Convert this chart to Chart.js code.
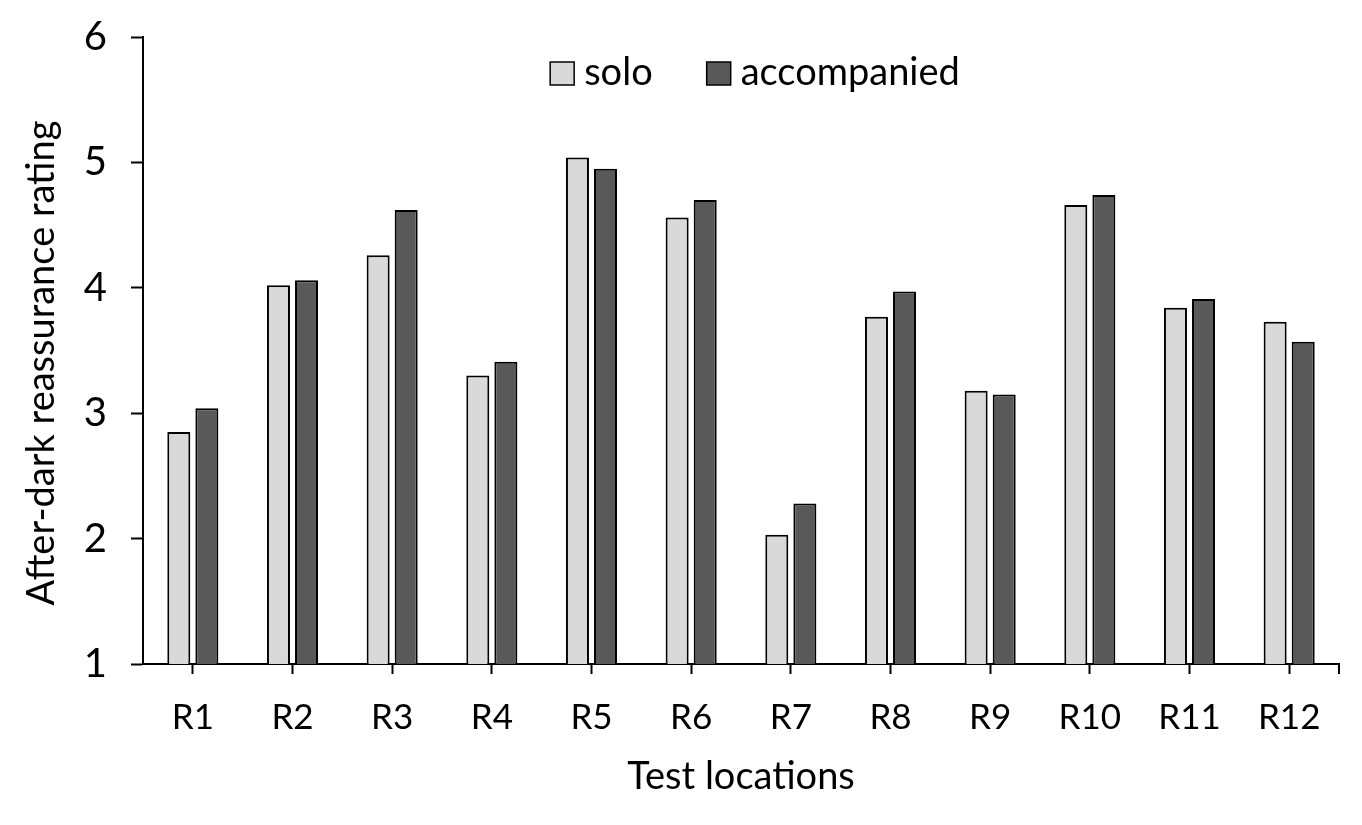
<!DOCTYPE html>
<html>
<head>
<meta charset="utf-8">
<script src="https://cdn.jsdelivr.net/npm/chart.js@4.4.1/dist/chart.umd.min.js"></script>
<style>
  html, body { margin: 0; padding: 0; background: #fff; }
  #wrap { width: 1362px; height: 825px; }
</style>
</head>
<body>
<div id="wrap"><canvas id="chart" width="1362" height="825"></canvas></div>
<script>
// data
const locations = ['R1', 'R2', 'R3', 'R4', 'R5', 'R6', 'R7', 'R8', 'R9', 'R10', 'R11', 'R12'];
const soloRatings = [2.85, 4.02, 4.26, 3.30, 5.04, 4.56, 2.03, 3.77, 3.18, 4.66, 3.84, 3.73];
const accompaniedRatings = [3.04, 4.06, 4.62, 3.41, 4.95, 4.70, 2.28, 3.97, 3.15, 4.74, 3.91, 3.57];
const yTicks = [1, 2, 3, 4, 5, 6];
const yTitle = 'After-dark reassurance rating';

const FONT = 'Lato, "Open Sans", sans-serif';

// legend drawn inside the plot area, near the top
const insideLegend = {
    id: 'insideLegend',
    afterDraw(chart) {
        const ctx = chart.ctx;
        const area = chart.chartArea;
        const box = 24, gap = 10, itemGap = 54;
        ctx.save();
        ctx.font = '38px ' + FONT;
        ctx.textBaseline = 'middle';
        const items = chart.data.datasets.map(ds => ({
            label: ds.label,
            color: ds.backgroundColor,
            w: box + gap + ctx.measureText(ds.label).width
        }));
        const total = items.reduce((s, it) => s + it.w, 0) + itemGap * (items.length - 1);
        let x = (area.left + area.right) / 2 + 14 - total / 2;
        const cy = 73;
        items.forEach(it => {
            ctx.fillStyle = it.color;
            ctx.fillRect(x, cy - 11, box, 23);
            ctx.lineWidth = 1.5;
            ctx.strokeStyle = '#000';
            ctx.strokeRect(x, cy - 11, box, 23);
            ctx.fillStyle = '#000';
            ctx.fillText(it.label, x + box + gap, cy);
            x += it.w + itemGap;
        });
        ctx.restore();
    }
};

// end tick on the category axis + y axis title (sits a bit below centre in the original)
const axisExtras = {
    id: 'axisExtras',
    afterDraw(chart) {
        const ctx = chart.ctx;
        const area = chart.chartArea;
        ctx.save();
        ctx.strokeStyle = '#000';
        ctx.lineWidth = 2;
        ctx.beginPath();
        ctx.moveTo(area.right, area.bottom);
        ctx.lineTo(area.right, area.bottom + 10);
        ctx.stroke();

        ctx.translate(42, 363);
        ctx.rotate(-Math.PI / 2);
        ctx.font = '38px ' + FONT;
        ctx.fillStyle = '#000';
        ctx.textAlign = 'center';
        ctx.textBaseline = 'middle';
        ctx.fillText(yTitle, 0, 0);
        ctx.restore();
    }
};

new Chart(document.getElementById('chart'), {
    type: 'bar',
    data: {
        labels: locations,
        datasets: [
            {
                label: 'solo',
                data: soloRatings,
                backgroundColor: '#d9d9d9',
                borderColor: '#000',
                borderWidth: 2,
                borderSkipped: 'bottom'
            },
            {
                label: 'accompanied',
                data: accompaniedRatings,
                backgroundColor: '#595959',
                borderColor: '#000',
                borderWidth: 2,
                borderSkipped: 'bottom'
            }
        ]
    },
    options: {
        responsive: false,
        animation: false,
        categoryPercentage: 0.563,
        barPercentage: 0.82,
        layout: { padding: { top: 37, right: 23, bottom: 0, left: 0 } },
        plugins: {
            legend: { display: false },
            tooltip: { enabled: false }
        },
        scales: {
            x: {
                grid: {
                    display: true,
                    drawOnChartArea: false,
                    offset: false,
                    tickLength: 10,
                    tickWidth: 2,
                    tickColor: '#000'
                },
                border: { color: '#000', width: 2 },
                ticks: {
                    color: '#000',
                    font: { family: FONT, size: 35 },
                    padding: 23,
                    maxRotation: 0
                },
                title: {
                    display: true,
                    text: 'Test locations',
                    color: '#000',
                    font: { family: FONT, size: 38 },
                    padding: { top: 0, bottom: 25 }
                },
                afterFit(scale) {
                    scale.height = 825 - 664;
                    scale.paddingLeft = 0;
                    scale.paddingRight = 0;
                }
            },
            y: {
                min: 1,
                max: 6,
                afterBuildTicks(scale) { scale.ticks = yTicks.map(v => ({ value: v })); },
                grid: {
                    display: true,
                    drawOnChartArea: false,
                    tickLength: 12,
                    tickWidth: 2,
                    tickColor: '#000'
                },
                border: { color: '#000', width: 2 },
                ticks: {
                    color: '#000',
                    font: { family: FONT, size: 40 },
                    padding: 24
                },
                title: { display: false },
                afterFit(scale) {
                    scale.width = 143;
                    scale.paddingTop = 0;
                    scale.paddingBottom = 0;
                }
            }
        }
    },
    plugins: [insideLegend, axisExtras]
});
</script>
</body>
</html>
